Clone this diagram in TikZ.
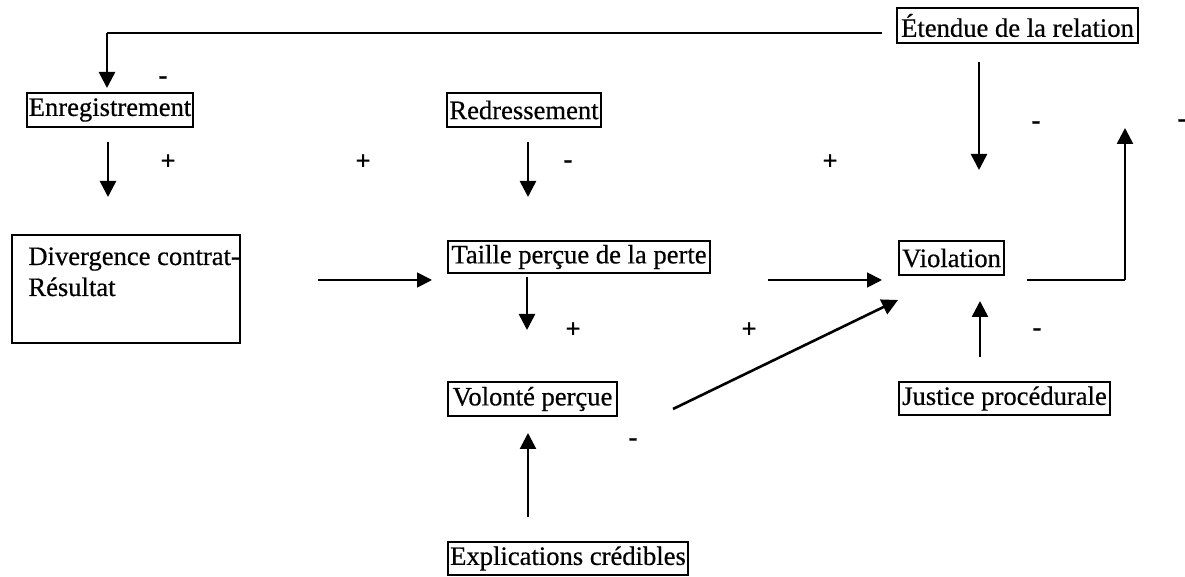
\documentclass[tikz,border=0pt]{standalone}
\usepackage{fontspec}
\setmainfont{Liberation Serif}
\newfontfamily\scanfont{Liberation Serif}[FakeBold=0.5]
\usetikzlibrary{arrows.meta}
\begin{document}
\begin{tikzpicture}[x=0.5pt,y=-0.5pt,
  lbl/.style={font=\scanfont\fontsize{13.3}{15.5}\selectfont},
  box/.style={lbl,draw,line width=0.9pt,inner sep=0pt,minimum height=17pt},
  txt/.style={lbl,inner sep=0pt},
  arr/.style={line width=1.3pt,-{Triangle[width=8pt,length=8pt]}},
  harr/.style={line width=0.9pt,-{Triangle[width=7.5pt,length=7.5pt]}},
  con/.style={line width=0.9pt},
  sign/.style={font=\scanfont\fontsize{13.3}{15.5}\selectfont\bfseries,inner sep=0pt}]
\useasboundingbox (0,0) rectangle (1185,577);

% boxes
\node[box,minimum width=120.5pt,minimum height=17.5pt] (ete) at (1017.5,25.5) {Étendue de la relation};
\node[box,minimum width=83pt] (enr) at (110,110) {Enregistrement};
\node[box,minimum width=77pt] (red) at (524,110) {Redressement};
\node[box,minimum width=114pt,minimum height=54pt] (div) at (126,289) {};
\node[txt,anchor=base west] (div1) at (28,265) {Divergence contrat-};
\node[txt,anchor=base west] (div2) at (28,296) {Résultat};
\node[box,minimum width=131pt,minimum height=16pt] (tai) at (579,257) {Taille perçue de la perte};
\node[box,minimum width=52.5pt] (vio) at (951.5,258) {Violation};
\node[box,minimum width=84.5pt] (vol) at (532.5,399) {Volonté perçue};
\node[box,minimum width=105.5pt,minimum height=16.5pt] (jus) at (1004.5,398.5) {Justice procédurale};
\node[box,minimum width=120pt,minimum height=16.5pt] (exp) at (568,558.5) {Explications crédibles};

% connector end points
\coordinate (a1) at (882,33);
\coordinate (a1c) at (107,33);
\coordinate (a1e) at (107,88);
\coordinate (b1) at (108,142);
\coordinate (b2) at (108,197);
\coordinate (c1) at (528,142);
\coordinate (c2) at (528,197);
\coordinate (d1) at (979,62);
\coordinate (d2) at (979,170);
\coordinate (e1) at (318,280);
\coordinate (e2) at (432,280);
\coordinate (f1) at (527,277);
\coordinate (f2) at (527,330);
\coordinate (g1) at (768,280);
\coordinate (g2) at (882,280);
\coordinate (h1) at (1027,280);
\coordinate (hc) at (1125,280);
\coordinate (h2) at (1125,128);
\coordinate (i1) at (673,409);
\coordinate (i2) at (898,300);
\coordinate (j1) at (980,357);
\coordinate (j2) at (980,301);
\coordinate (k1) at (528,517);
\coordinate (k2) at (528,433);

% connectors
\draw[con] (a1) -- (a1c);
\draw[arr] (a1c) -- (a1e);
\draw[arr] (b1) -- (b2);
\draw[arr] (c1) -- (c2);
\draw[arr] (d1) -- (d2);
\draw[harr] (e1) -- (e2);
\draw[arr] (f1) -- (f2);
\draw[harr] (g1) -- (g2);
\draw[con] (h1) -- (hc);
\draw[arr] (hc) -- (h2);
\draw[arr] (i1) -- (i2);
\draw[arr] (j1) -- (j2);
\draw[arr] (k1) -- (k2);

% signs
\node[sign] (s1) at (163,80) {-};
\node[sign] (s2) at (168,162) {+};
\node[sign] (s3) at (363,162) {+};
\node[sign] (s4) at (568,164) {-};
\node[sign] (s5) at (830,162) {+};
\node[sign] (s6) at (1036,125) {-};
\node[sign] (s7) at (1182,123) {-};
\node[sign] (s8) at (573,330) {+};
\node[sign] (s9) at (749,330) {+};
\node[sign] (s10) at (633,442) {-};
\node[sign] (s11) at (1037,332) {-};
\end{tikzpicture}
\end{document}
